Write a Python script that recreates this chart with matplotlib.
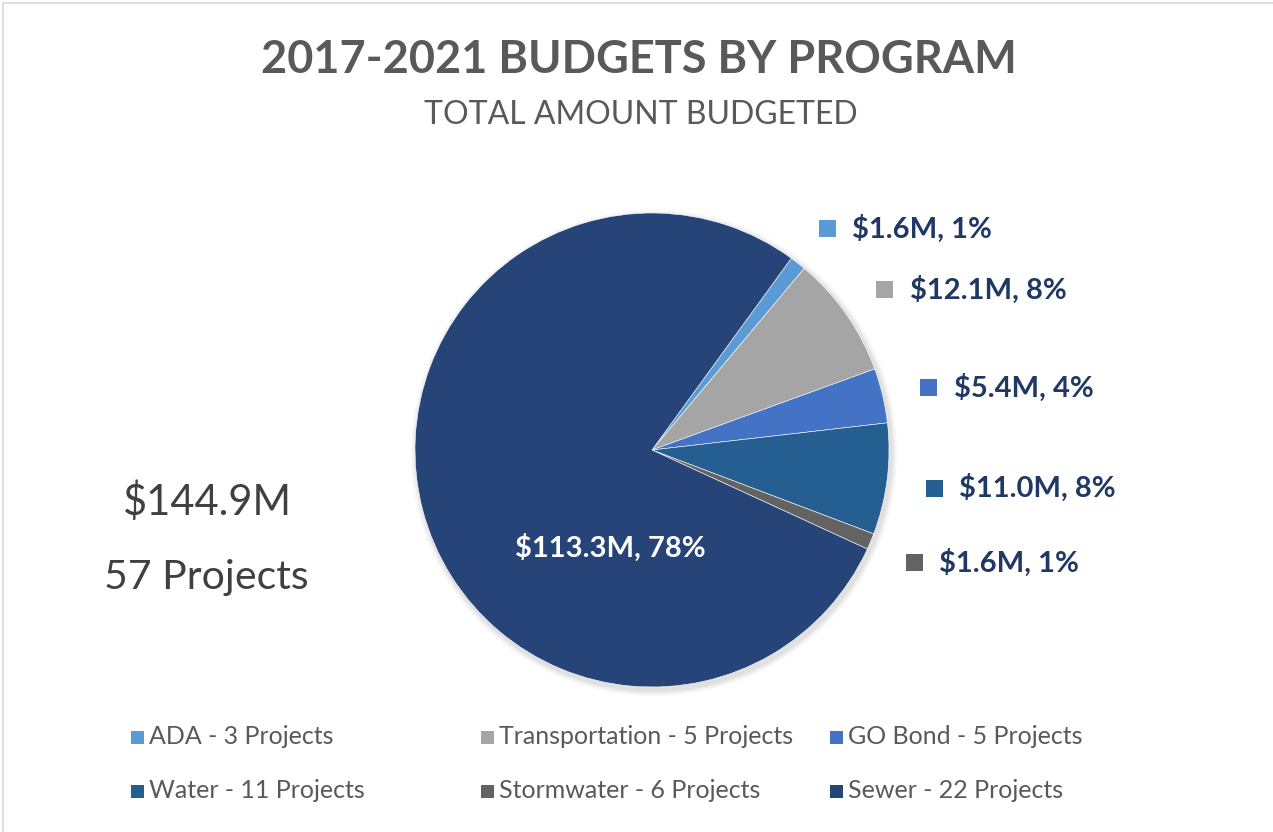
import numpy as np
import matplotlib
matplotlib.use("Agg")
import matplotlib.pyplot as plt
from matplotlib.patches import Rectangle

plt.rcParams['font.family'] = ['Lato', 'DejaVu Sans']

# ---- data ----
categories = ["ADA", "Transportation", "GO Bond", "Water", "Stormwater", "Sewer"]
projects = [3, 5, 5, 11, 6, 22]
budgets_m = [1.6, 12.1, 5.4, 11.0, 1.6, 113.3]
colors = ["#5B9BD5", "#A5A5A5", "#4472C4", "#255E91", "#636363", "#264478"]
total_label = "$144.9M"
total_projects = 57
title = "2017-2021 BUDGETS BY PROGRAM"
subtitle = "TOTAL AMOUNT BUDGETED"

W, H = 1273, 832
fig = plt.figure(figsize=(W / 100, H / 100), dpi=100)
ax = fig.add_axes([0, 0, 1, 1])
ax.set_xlim(0, W)
ax.set_ylim(0, H)
ax.set_aspect('equal')
ax.axis('off')

# border
ax.add_patch(Rectangle((3, -5), W, H - 3 + 5, fill=False, edgecolor="#D9D9D9", lw=1.2))

cx, cy, R = 652, H - 450, 237
start = 90 - 36

# subtle shadow
for i, a in enumerate([0.05, 0.04, 0.03]):
    ax.add_patch(plt.Circle((cx + 2, cy - 3), R + 2 + i * 2, color="black", alpha=a, lw=0))

wedges, _ = ax.pie(budgets_m, colors=colors, startangle=start, counterclock=False,
                   center=(cx, cy), radius=R, wedgeprops=dict(edgecolor="white", linewidth=0.4))
ax.set_xlim(0, W)
ax.set_ylim(0, H)

total = sum(budgets_m)
label_color = "#1F3864"
for w, v, c in zip(wedges[:-1], budgets_m[:-1], colors[:-1]):
    mid = np.deg2rad((w.theta1 + w.theta2) / 2)
    sx = cx + 1.2 * R * np.cos(mid)
    sy = cy + 1.2 * R * np.sin(mid) - 3
    ax.add_patch(Rectangle((sx - 8.5, sy - 8.5), 17, 17, color=c, lw=0))
    ax.text(sx + 25, sy, f"${v:.1f}M, {round(v / total * 100):.0f}%", ha="left", va="center",
            fontsize=21, fontweight="bold", color=label_color)

# Sewer label inside
v = budgets_m[-1]
ax.text(cx - 42, cy - 98, f"${v:.1f}M, {round(v / total * 100):.0f}%", ha="center", va="center",
        fontsize=21, fontweight="bold", color="white")

# titles
ax.text(639, H - 60, title, ha="center", va="center", fontsize=32.5, fontweight="bold", color="#595959")
ax.text(641, H - 115, subtitle, ha="center", va="center", fontsize=23, color="#595959")

# left totals
ax.text(207, H - 502, total_label, ha="center", va="center", fontsize=30, color="#404040")
ax.text(206, H - 578, f"{total_projects} Projects", ha="center", va="center", fontsize=29.5, color="#404040")

# legend
col_x = [137, 487, 836]
row_y = [H - 737, H - 791]
for i, (cat, n, c) in enumerate(zip(categories, projects, colors)):
    x = col_x[i % 3]
    y = row_y[i // 3]
    ax.add_patch(Rectangle((x - 6.5, y - 6.5), 13, 13, color=c, lw=0))
    ax.text(x + 12, y, f"{cat} - {n} Projects", ha="left", va="center", fontsize=18, color="#595959")

fig.savefig("out.png", dpi=100)
